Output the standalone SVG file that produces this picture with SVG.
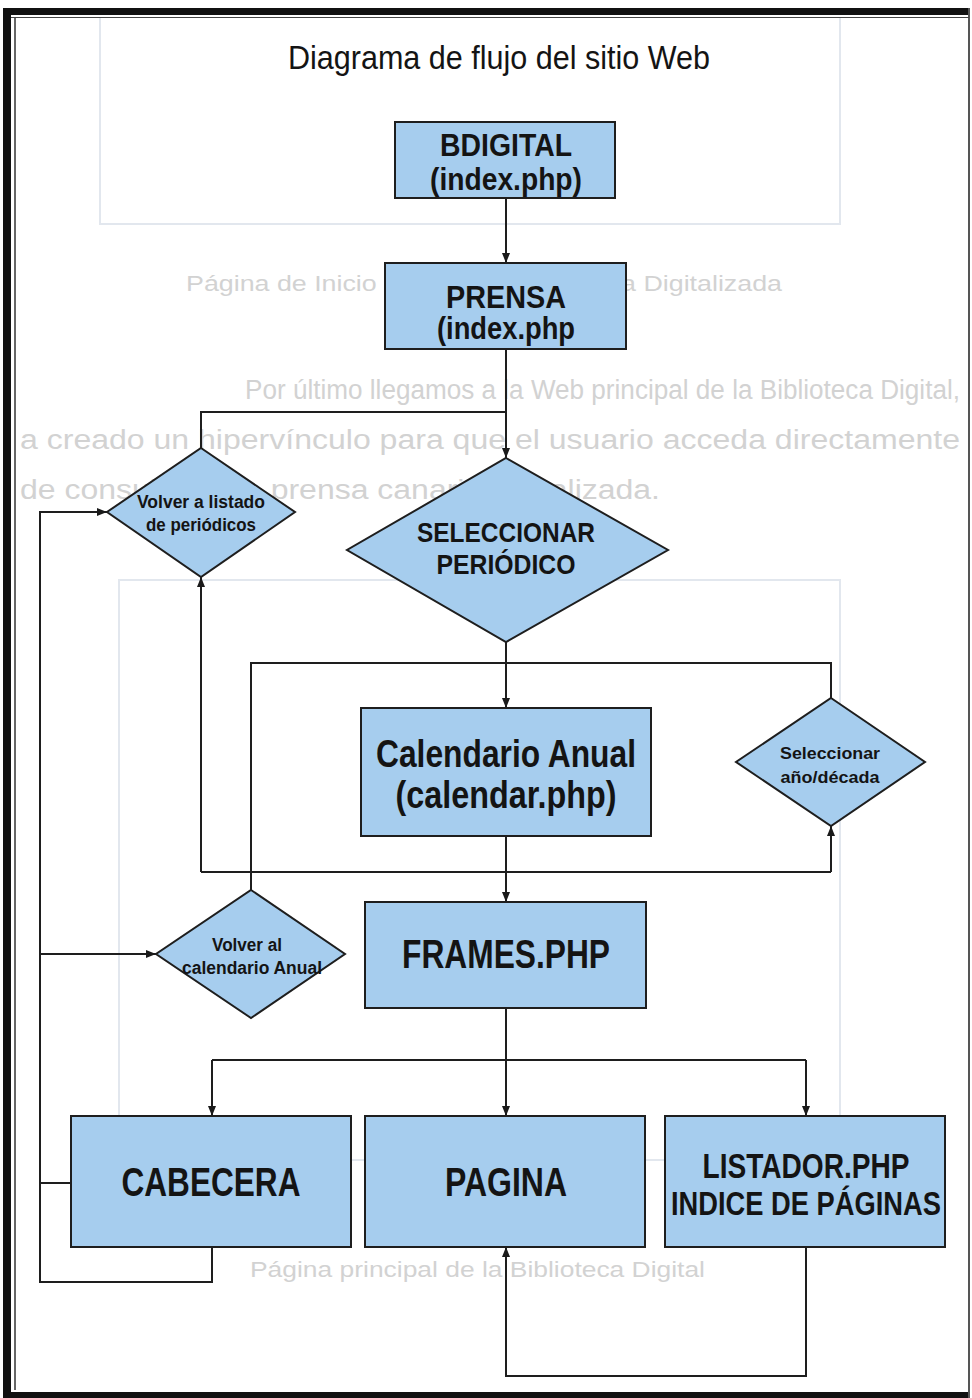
<svg xmlns="http://www.w3.org/2000/svg" width="972" height="1398" viewBox="0 0 972 1398">
<defs>
<marker id="arr" markerUnits="userSpaceOnUse" markerWidth="10" markerHeight="8" refX="10" refY="4" orient="auto">
<path d="M0,0 L10,4 L0,8 z" fill="#1a1a1a"/>
</marker>
<style>
.box{fill:#a6cdee;stroke:#1e1e1e;stroke-width:2}
.con{fill:none;stroke:#1e1e1e;stroke-width:2}
.lbl{font-family:"Liberation Sans",Arial,sans-serif;font-weight:bold;fill:#141414;text-anchor:middle}
.ghost{font-family:"Liberation Sans",Arial,sans-serif;fill:#d2d2d2}
.frame{fill:none;stroke:#e2e7ee;stroke-width:2}
</style>
</defs>
<rect x="0" y="0" width="972" height="1398" fill="#ffffff"/>
<g id="background">
<path class="frame" d="M100 18 V224 H840 V18"/>
<path class="frame" d="M119 580 H840 V1160 H119 Z"/>
<text class="ghost" x="186" y="291" font-size="22" textLength="596" lengthAdjust="spacingAndGlyphs">Página de Inicio de la Prensa Canaria Digitalizada</text>
<text class="ghost" x="245" y="399" font-size="27" textLength="715" lengthAdjust="spacingAndGlyphs">Por último llegamos a la Web principal de la Biblioteca Digital,</text>
<text class="ghost" x="20" y="449" font-size="27" textLength="940" lengthAdjust="spacingAndGlyphs">a creado un hipervínculo para que el usuario acceda directamente</text>
<text class="ghost" x="20" y="499" font-size="27" textLength="640" lengthAdjust="spacingAndGlyphs">de consulta de la prensa canaria digitalizada.</text>
<text class="ghost" x="250" y="1277" font-size="22" textLength="455" lengthAdjust="spacingAndGlyphs">Página principal de la Biblioteca Digital</text>
</g>
<g id="border">
<rect x="3" y="8" width="967" height="7" fill="#111"/>
<rect x="3" y="8" width="8" height="1390" fill="#111"/>
<rect x="3" y="1392" width="967" height="6" fill="#111"/>
<line x1="969" y1="8" x2="969" y2="1398" stroke="#555" stroke-width="2"/>
<line x1="15" y1="17" x2="15" y2="1390" stroke="#333" stroke-width="1.5"/>
<line x1="11" y1="17.5" x2="969" y2="17.5" stroke="#444" stroke-width="1.2"/>
</g>
<text x="499" y="69" font-family="'Liberation Sans',Arial,sans-serif" font-size="34" fill="#141414" text-anchor="middle" textLength="422" lengthAdjust="spacingAndGlyphs">Diagrama de flujo del sitio Web</text>
<g id="connectors">
<path class="con" d="M506 198 V263" marker-end="url(#arr)"/>
<path class="con" d="M506 349 V458" marker-end="url(#arr)"/>
<path class="con" d="M506 412 H201 V448"/>
<path class="con" d="M506 642 V708" marker-end="url(#arr)"/>
<path class="con" d="M251 890 V663 H831 V698"/>
<path class="con" d="M506 836 V902" marker-end="url(#arr)"/>
<path class="con" d="M201 872 H831"/>
<path class="con" d="M201 872 V577" marker-end="url(#arr)"/>
<path class="con" d="M831 872 V826" marker-end="url(#arr)"/>
<path class="con" d="M506 1008 V1116" marker-end="url(#arr)"/>
<path class="con" d="M212 1060 H806"/>
<path class="con" d="M212 1060 V1116" marker-end="url(#arr)"/>
<path class="con" d="M806 1060 V1116" marker-end="url(#arr)"/>
<path class="con" d="M212 1247 V1282 H40 V512 H107" marker-end="url(#arr)"/>
<path class="con" d="M40 954 H156" marker-end="url(#arr)"/>
<path class="con" d="M71 1183 H40"/>
<path class="con" d="M806 1247 V1376 H506 V1247" marker-end="url(#arr)"/>
</g>
<g id="bdigital">
<rect class="box" x="395" y="122" width="220" height="76"/>
<text class="lbl" x="506" y="156" font-size="31" textLength="132" lengthAdjust="spacingAndGlyphs">BDIGITAL</text>
<text class="lbl" x="506" y="190" font-size="31" textLength="152" lengthAdjust="spacingAndGlyphs">(index.php)</text>
</g>
<g id="prensa">
<rect class="box" x="385" y="263" width="241" height="86"/>
<text class="lbl" x="506" y="308" font-size="31" textLength="120" lengthAdjust="spacingAndGlyphs">PRENSA</text>
<text class="lbl" x="506" y="339" font-size="31" textLength="138" lengthAdjust="spacingAndGlyphs">(index.php</text>
</g>
<g id="volver-listado">
<polygon class="box" points="201,448 295,512 201,577 107,512"/>
<text class="lbl" x="201" y="508" font-size="18" textLength="128" lengthAdjust="spacingAndGlyphs">Volver a listado</text>
<text class="lbl" x="201" y="531" font-size="18" textLength="110" lengthAdjust="spacingAndGlyphs">de periódicos</text>
</g>
<g id="seleccionar-periodico">
<polygon class="box" points="506,458 668,550 506,642 347,550"/>
<text class="lbl" x="506" y="542" font-size="28" textLength="178" lengthAdjust="spacingAndGlyphs">SELECCIONAR</text>
<text class="lbl" x="506" y="574" font-size="28" textLength="139" lengthAdjust="spacingAndGlyphs">PERIÓDICO</text>
</g>
<g id="calendario">
<rect class="box" x="361" y="708" width="290" height="128"/>
<text class="lbl" x="506" y="767" font-size="39" textLength="260" lengthAdjust="spacingAndGlyphs">Calendario Anual</text>
<text class="lbl" x="506" y="808" font-size="39" textLength="221" lengthAdjust="spacingAndGlyphs">(calendar.php)</text>
</g>
<g id="seleccionar-anio">
<polygon class="box" points="831,698 925,762 831,826 736,762"/>
<text class="lbl" x="830" y="759" font-size="17" textLength="100" lengthAdjust="spacingAndGlyphs">Seleccionar</text>
<text class="lbl" x="830" y="783" font-size="17" textLength="99" lengthAdjust="spacingAndGlyphs">año/década</text>
</g>
<g id="volver-calendario">
<polygon class="box" points="251,890 345,954 251,1018 156,954"/>
<text class="lbl" x="247" y="951" font-size="18" textLength="70" lengthAdjust="spacingAndGlyphs">Volver al</text>
<text class="lbl" x="252" y="974" font-size="18" textLength="140" lengthAdjust="spacingAndGlyphs">calendario Anual</text>
</g>
<g id="frames">
<rect class="box" x="365" y="902" width="281" height="106"/>
<text class="lbl" x="506" y="968" font-size="40" textLength="208" lengthAdjust="spacingAndGlyphs">FRAMES.PHP</text>
</g>
<g id="cabecera">
<rect class="box" x="71" y="1116" width="280" height="131"/>
<text class="lbl" x="211" y="1196" font-size="40" textLength="179" lengthAdjust="spacingAndGlyphs">CABECERA</text>
</g>
<g id="pagina">
<rect class="box" x="365" y="1116" width="280" height="131"/>
<text class="lbl" x="506" y="1196" font-size="40" textLength="122" lengthAdjust="spacingAndGlyphs">PAGINA</text>
</g>
<g id="listador">
<rect class="box" x="665" y="1116" width="280" height="131"/>
<text class="lbl" x="806" y="1178" font-size="35" textLength="207" lengthAdjust="spacingAndGlyphs">LISTADOR.PHP</text>
<text class="lbl" x="806" y="1215" font-size="34" textLength="270" lengthAdjust="spacingAndGlyphs">INDICE DE PÁGINAS</text>
</g>
</svg>
